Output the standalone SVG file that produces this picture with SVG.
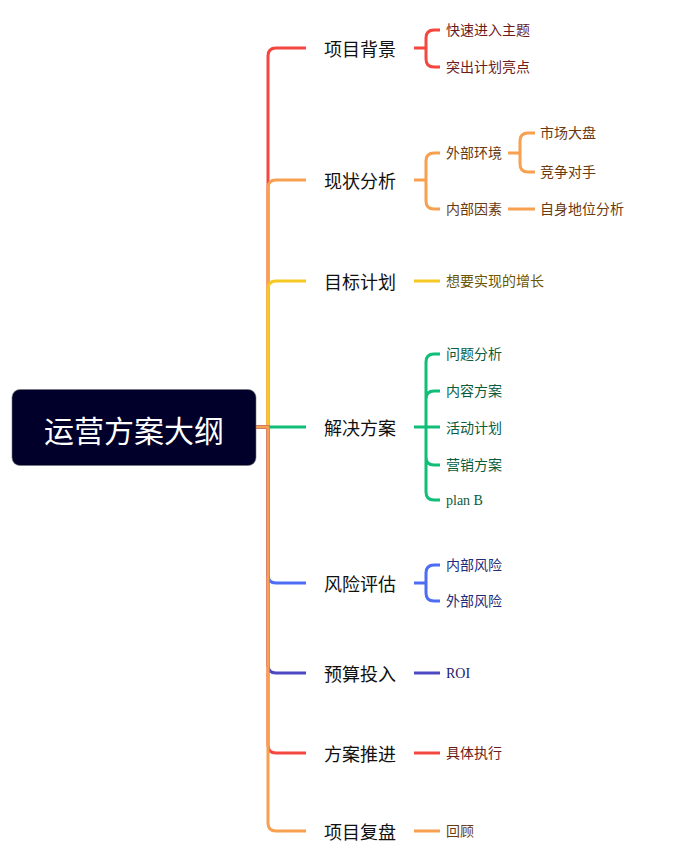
<svg xmlns="http://www.w3.org/2000/svg" width="700" height="866" viewBox="0 0 700 866">
<style>
.c{fill:none;stroke-width:3;stroke-linecap:butt}
.l1{font-family:"Noto Sans CJK SC","Noto Sans",sans-serif;font-size:18px;fill:#111;dominant-baseline:central}
.l2{font-family:"Liberation Serif","Noto Sans CJK SC",serif;font-size:14px;dominant-baseline:central}
.root{font-family:"Noto Sans CJK SC","Noto Sans",sans-serif;font-size:30px;fill:#fff;dominant-baseline:central;text-anchor:middle}
</style>
<rect width="700" height="866" fill="#fff"/>
<g id="connectors">
<path class="c" stroke="#f4473f" d="M256 427H268V56Q268 48 276 48H306"/>
<path class="c" stroke="#f7a04f" d="M256 427H268V188Q268 180 276 180H306"/>
<path class="c" stroke="#f5c824" d="M256 427H268V289Q268 281 276 281H306"/>
<path class="c" stroke="#10be78" d="M256 427H306"/>
<path class="c" stroke="#4d6df5" d="M256 427H268V575Q268 583 276 583H306"/>
<path class="c" stroke="#4d49c2" d="M256 427H268V665Q268 673 276 673H306"/>
<path class="c" stroke="#f4473f" d="M256 427H268V745Q268 753 276 753H306"/>
<path class="c" stroke="#f7a04f" d="M256 427H268V823Q268 831 276 831H306"/>
<path class="c" stroke="#f4473f" d="M414 48H426V38Q426 30 434 30H440M414 48H426V59Q426 67 434 67H440"/>
<path class="c" stroke="#f7a04f" d="M414 180H426V161Q426 153 434 153H440M414 180H426V201Q426 209 434 209H440"/>
<path class="c" stroke="#f7a04f" d="M508 153H520V141Q520 133 528 133H535M508 153H520V164Q520 172 528 172H535M508 209H535"/>
<path class="c" stroke="#f5c824" d="M414 281H440"/>
<path class="c" stroke="#10be78" d="M414 427H426V362Q426 354 434 354H440M414 427H426V399Q426 391 434 391H440M414 427H440M414 427H426V457Q426 465 434 465H440M414 427H426V492Q426 500 434 500H440"/>
<path class="c" stroke="#4d6df5" d="M414 583H426V573Q426 565 434 565H440M414 583H426V593Q426 601 434 601H440"/>
<path class="c" stroke="#4d49c2" d="M414 673H440"/>
<path class="c" stroke="#f4473f" d="M414 753H440"/>
<path class="c" stroke="#f7a04f" d="M414 831H440"/>
</g>
<g id="root"><rect x="12" y="389.500" width="244" height="76" rx="8" fill="#00002a" stroke="#777" stroke-width="0.600"/><text class="root" x="134" y="429">运营方案大纲</text></g>
<g id="n1"><text class="l1" x="324" y="48">项目背景</text></g>
<g id="n1a"><text class="l2" fill="#6d1a1a" x="446" y="30">快速进入主题</text></g>
<g id="n1b"><text class="l2" fill="#6d1a1a" x="446" y="67">突出计划亮点</text></g>
<g id="n2"><text class="l1" x="324" y="180">现状分析</text></g>
<g id="n2a"><text class="l2" fill="#6b3a10" x="446" y="153">外部环境</text></g>
<g id="n2a1"><text class="l2" fill="#6b3a10" x="540" y="133">市场大盘</text></g>
<g id="n2a2"><text class="l2" fill="#6b3a10" x="540" y="172">竞争对手</text></g>
<g id="n2b"><text class="l2" fill="#6b3a10" x="446" y="209">内部因素</text></g>
<g id="n2b1"><text class="l2" fill="#6b3a10" x="540" y="209">自身地位分析</text></g>
<g id="n3"><text class="l1" x="324" y="281">目标计划</text></g>
<g id="n3a"><text class="l2" fill="#6b5600" x="446" y="281">想要实现的增长</text></g>
<g id="n4"><text class="l1" x="324" y="427">解决方案</text></g>
<g id="n4a"><text class="l2" fill="#0b5c3c" x="446" y="354">问题分析</text></g>
<g id="n4b"><text class="l2" fill="#0b5c3c" x="446" y="391">内容方案</text></g>
<g id="n4c"><text class="l2" fill="#0b5c3c" x="446" y="428">活动计划</text></g>
<g id="n4d"><text class="l2" fill="#0b5c3c" x="446" y="465">营销方案</text></g>
<g id="n4e"><text class="l2" fill="#0b5c3c" x="446" y="500">plan B</text></g>
<g id="n5"><text class="l1" x="324" y="583">风险评估</text></g>
<g id="n5a"><text class="l2" fill="#1e2c7a" x="446" y="565">内部风险</text></g>
<g id="n5b"><text class="l2" fill="#1e2c7a" x="446" y="601">外部风险</text></g>
<g id="n6"><text class="l1" x="324" y="673">预算投入</text></g>
<g id="n6a"><text class="l2" fill="#22206b" x="446" y="673">ROI</text></g>
<g id="n7"><text class="l1" x="324" y="753">方案推进</text></g>
<g id="n7a"><text class="l2" fill="#6d1a1a" x="446" y="753">具体执行</text></g>
<g id="n8"><text class="l1" x="324" y="831">项目复盘</text></g>
<g id="n8a"><text class="l2" fill="#6b3a10" x="446" y="831">回顾</text></g>
</svg>
